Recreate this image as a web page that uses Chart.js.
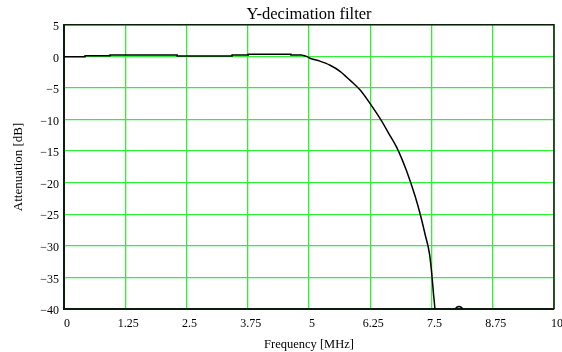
<!DOCTYPE html>
<html>
<head>
<meta charset="utf-8">
<title>Y-decimation filter</title>
<script src="https://cdn.jsdelivr.net/npm/chart.js@4/dist/chart.umd.min.js"></script>
<style>
  html, body { margin: 0; padding: 0; background: #ffffff; }
  #wrap { width: 562px; height: 352px; }
</style>
</head>
<body>
<div id="wrap"><canvas id="chart" width="562" height="352"></canvas></div>
<script>
// Passband ripple (stepped trace): frequency in MHz, attenuation in dB
const passFreqMHz = [0, 0.43, 0.43, 0.94, 0.94, 2.31, 2.31, 3.43, 3.43, 3.76, 3.76, 4.63, 4.63, 4.86];
const passDb = [-0.05, -0.05, 0.1, 0.1, 0.2, 0.2, 0.05, 0.05, 0.2, 0.2, 0.35, 0.35, 0.2, 0.2];

// Transition band and stopband
const rollFreqMHz = [
  4.86, 4.95, 5.02, 5.2, 5.43, 5.64, 5.84, 6.04, 6.24, 6.48, 6.65, 6.79, 6.99, 7.16,
  7.27, 7.37, 7.46, 7.5, 7.54, 7.57, 7.62, 7.75, 7.9, 7.98, 8.02, 8.06, 8.1, 8.14,
  8.22, 8.4, 8.7, 9.0, 9.4, 10
];
const rollDb = [
  0.2, 0.0, -0.3, -0.7, -1.4, -2.4, -3.8, -5.3, -7.4, -10.2, -12.5, -14.4, -18.1, -22.0,
  -25.0, -28.2, -31.3, -34.0, -37.5, -40.0, -46, -52, -44, -40.2, -39.7, -39.6, -39.7, -40.2,
  -45, -55, -48, -52, -49, -53
];

const xTickValues = [0, 1.25, 2.5, 3.75, 5, 6.25, 7.5, 8.75, 10];
const yTickValues = [5, 0, -5, -10, -15, -20, -25, -30, -35, -40];

const serif = 'Liberation Serif, Times New Roman, serif';
const gridGreen = '#34ee34';
const frameDark = '#0d1d0d';

const toPoints = (xs, ys) => xs.map((x, i) => ({ x, y: ys[i] }));

// Thin frame on the top and right of the plotting area
const frameEdges = {
  id: 'frameEdges',
  afterDatasetsDraw(chart) {
    const { ctx, chartArea: a } = chart;
    ctx.save();
    ctx.strokeStyle = frameDark;
    ctx.lineWidth = 1.5;
    ctx.beginPath();
    ctx.moveTo(a.left, a.top);
    ctx.lineTo(a.right, a.top);
    ctx.lineTo(a.right, a.bottom);
    ctx.stroke();
    ctx.restore();
  }
};

new Chart(document.getElementById('chart'), {
  type: 'line',
  data: {
    datasets: [
      {
        data: toPoints(passFreqMHz, passDb),
        borderColor: '#000000',
        borderWidth: 1.5,
        pointRadius: 0,
        fill: false,
        tension: 0
      },
      {
        data: toPoints(rollFreqMHz, rollDb),
        borderColor: '#000000',
        borderWidth: 1.5,
        pointRadius: 0,
        fill: false,
        cubicInterpolationMode: 'monotone'
      }
    ]
  },
  options: {
    responsive: false,
    animation: false,
    devicePixelRatio: 1,
    layout: { padding: { left: 0, right: 8, top: 0, bottom: 0 } },
    plugins: {
      legend: { display: false },
      tooltip: { enabled: false },
      title: {
        display: true,
        fullSize: false,
        text: 'Y-decimation filter',
        color: '#000000',
        font: { family: serif, size: 16.5, weight: 'normal' },
        padding: { top: 5, bottom: 0 }
      }
    },
    scales: {
      x: {
        type: 'linear',
        position: 'bottom',
        min: 0,
        max: 10,
        afterBuildTicks(scale) { scale.ticks = xTickValues.map(v => ({ value: v })); },
        afterFit(scale) {
          scale.height = 43;
          scale.paddingLeft = 0;
          scale.paddingRight = 0;
        },
        grid: { color: gridGreen, lineWidth: 1.3, drawTicks: false },
        border: { color: frameDark, width: 2 },
        ticks: {
          color: '#000000',
          font: { family: serif, size: 12 },
          padding: 8,
          labelOffset: 3,
          maxRotation: 0,
          callback: v => String(v)
        },
        title: {
          display: true,
          text: 'Frequency [MHz]',
          color: '#000000',
          font: { family: serif, size: 12.5 },
          padding: { top: 0, bottom: 0 }
        }
      },
      y: {
        type: 'linear',
        min: -40,
        max: 5,
        afterBuildTicks(scale) { scale.ticks = yTickValues.map(v => ({ value: v })); },
        afterFit(scale) {
          scale.width = 64;
          scale.paddingTop = 0;
          scale.paddingBottom = 0;
        },
        grid: { color: gridGreen, lineWidth: 1.3, drawTicks: false },
        border: { color: frameDark, width: 2 },
        ticks: {
          color: '#000000',
          font: { family: serif, size: 12 },
          padding: 5,
          labelOffset: 2,
          callback: v => (v < 0 ? '\u2212' + Math.abs(v) : String(v))
        },
        title: {
          display: true,
          text: 'Attenuation [dB]',
          color: '#000000',
          font: { family: serif, size: 13 },
          padding: { top: 11, bottom: 0 }
        }
      }
    }
  },
  plugins: [frameEdges]
});
</script>
</body>
</html>
